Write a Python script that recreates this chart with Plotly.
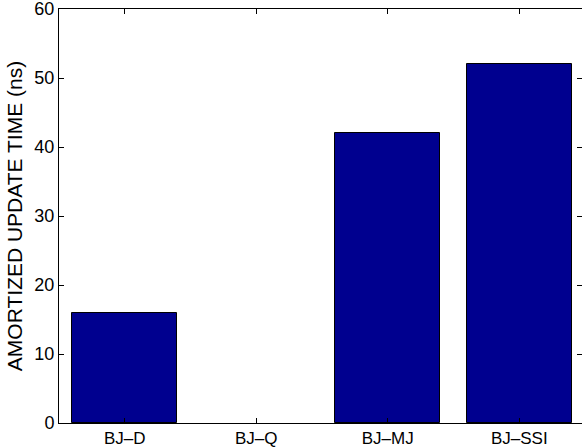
import plotly.graph_objects as go

# Amortized update time per method
methods = ["BJ\u2013D", "BJ\u2013Q", "BJ\u2013MJ", "BJ\u2013SSI"]
update_time_ns = [16, 0, 42, 52]
y_ticks = [0, 10, 20, 30, 40, 50, 60]

positions = list(range(1, len(methods) + 1))
# no outline on empty bars so nothing is drawn over the baseline
edge_widths = [1 if v > 0 else 0 for v in update_time_ns]

fig = go.Figure(
    go.Bar(
        x=positions,
        y=update_time_ns,
        width=0.8,
        marker=dict(color="#00008F", line=dict(color="#000000", width=edge_widths)),
        showlegend=False,
    )
)

font = dict(family="Liberation Sans, Arial, Helvetica, sans-serif", size=18, color="#000000")

fig.update_layout(
    width=582,
    height=448,
    margin=dict(l=59, r=0, t=9, b=25, autoexpand=False),
    paper_bgcolor="#ffffff",
    plot_bgcolor="#ffffff",
    font=font,
    bargap=0,
)

fig.update_xaxes(
    range=[0.5, 4.477],
    tickmode="array",
    tickvals=positions,
    ticktext=methods,
    ticks="inside",
    ticklen=5,
    tickcolor="#000000",
    showline=True,
    linecolor="#000000",
    linewidth=1,
    mirror="ticks",
    showgrid=False,
    zeroline=False,
    tickfont=dict(size=17),
    ticklabeloverflow="allow",
    automargin=False,
)

fig.update_yaxes(
    range=[0, 60],
    tickmode="array",
    tickvals=y_ticks,
    ticks="inside",
    ticklen=5,
    tickcolor="#000000",
    showline=True,
    linecolor="#000000",
    linewidth=1,
    mirror="ticks",
    showgrid=False,
    zeroline=False,
    tickfont=dict(size=18),
    ticklabeloverflow="allow",
    automargin=False,
    title=dict(text="AMORTIZED UPDATE TIME (ns)", font=dict(size=21), standoff=6),
)

fig.write_html("out.html")
